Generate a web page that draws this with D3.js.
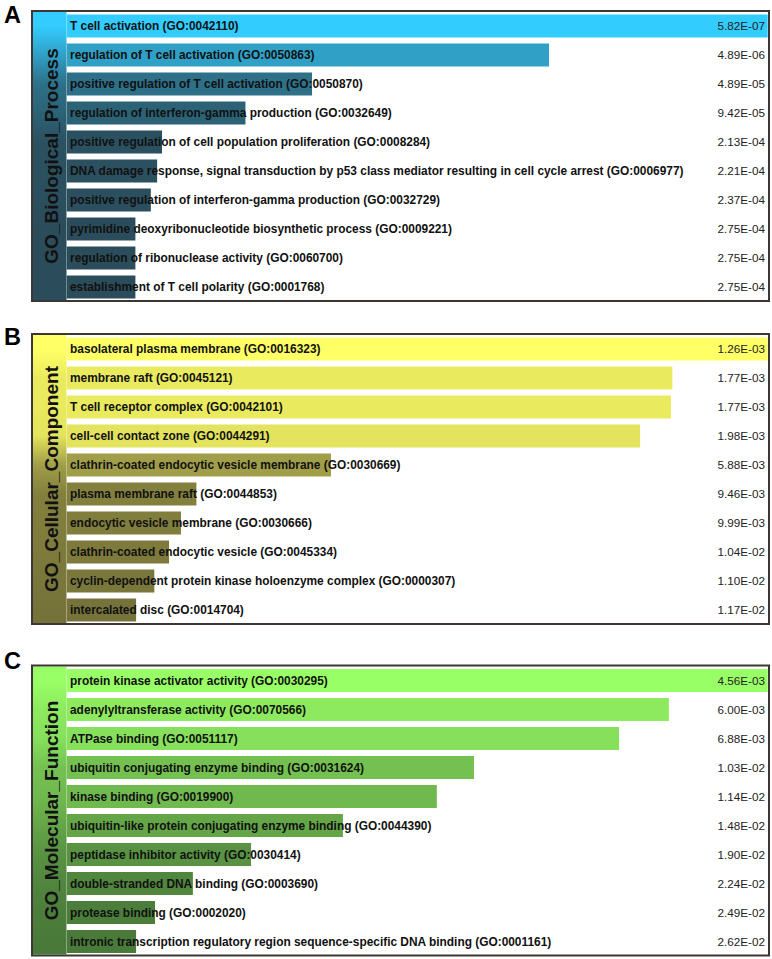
<!DOCTYPE html>
<html>
<head>
<meta charset="utf-8">
<script src="https://cdn.jsdelivr.net/npm/d3@7"></script>
<style>
  body { margin: 0; background: #fff; }
  svg { display: block; }
</style>
</head>
<body>
<svg id="chart" width="772" height="959"></svg>
<script>
// terms, p-values and relative bar lengths (score / top score) per GO library
const bpTerms = [
  'T cell activation (GO:0042110)',
  'regulation of T cell activation (GO:0050863)',
  'positive regulation of T cell activation (GO:0050870)',
  'regulation of interferon-gamma production (GO:0032649)',
  'positive regulation of cell population proliferation (GO:0008284)',
  'DNA damage response, signal transduction by p53 class mediator resulting in cell cycle arrest (GO:0006977)',
  'positive regulation of interferon-gamma production (GO:0032729)',
  'pyrimidine deoxyribonucleotide biosynthetic process (GO:0009221)',
  'regulation of ribonuclease activity (GO:0060700)',
  'establishment of T cell polarity (GO:0001768)'
]
const bpPvals = ['5.82E-07', '4.89E-06', '4.89E-05', '9.42E-05', '2.13E-04', '2.21E-04', '2.37E-04', '2.75E-04', '2.75E-04', '2.75E-04']
const bpScore = [1.0, 0.688, 0.350, 0.255, 0.136, 0.129, 0.120, 0.098, 0.098, 0.098]

const ccTerms = [
  'basolateral plasma membrane (GO:0016323)',
  'membrane raft (GO:0045121)',
  'T cell receptor complex (GO:0042101)',
  'cell-cell contact zone (GO:0044291)',
  'clathrin-coated endocytic vesicle membrane (GO:0030669)',
  'plasma membrane raft (GO:0044853)',
  'endocytic vesicle membrane (GO:0030666)',
  'clathrin-coated endocytic vesicle (GO:0045334)',
  'cyclin-dependent protein kinase holoenzyme complex (GO:0000307)',
  'intercalated disc (GO:0014704)'
]
const ccPvals = ['1.26E-03', '1.77E-03', '1.77E-03', '1.98E-03', '5.88E-03', '9.46E-03', '9.99E-03', '1.04E-02', '1.10E-02', '1.17E-02']
const ccScore = [1.0, 0.864, 0.862, 0.818, 0.377, 0.185, 0.163, 0.146, 0.125, 0.099]

const mfTerms = [
  'protein kinase activator activity (GO:0030295)',
  'adenylyltransferase activity (GO:0070566)',
  'ATPase binding (GO:0051117)',
  'ubiquitin conjugating enzyme binding (GO:0031624)',
  'kinase binding (GO:0019900)',
  'ubiquitin-like protein conjugating enzyme binding (GO:0044390)',
  'peptidase inhibitor activity (GO:0030414)',
  'double-stranded DNA binding (GO:0003690)',
  'protease binding (GO:0002020)',
  'intronic transcription regulatory region sequence-specific DNA binding (GO:0001161)'
]
const mfPvals = ['4.56E-03', '6.00E-03', '6.88E-03', '1.03E-02', '1.14E-02', '1.48E-02', '1.90E-02', '2.24E-02', '2.49E-02', '2.62E-02']
const mfScore = [1.0, 0.859, 0.788, 0.581, 0.528, 0.394, 0.263, 0.180, 0.126, 0.099]

const panels = [
  { key: 'A', title: 'GO_Biological_Process', terms: bpTerms, pvals: bpPvals, score: bpScore, top: 10, letterY: 13, bright: '#33ccff', dark: '#2b4c5a' },
  { key: 'B', title: 'GO_Cellular_Component', terms: ccTerms, pvals: ccPvals, score: ccScore, top: 333, letterY: 12, bright: '#ffff66', dark: '#76733a' },
  { key: 'C', title: 'GO_Molecular_Function', terms: mfTerms, pvals: mfPvals, score: mfScore, top: 664.5, letterY: 4, bright: '#99ff66', dark: '#4a7a3a' }
]

const font = "'Liberation Sans', Arial, sans-serif"
const svg = d3.select('#chart')
const frameX = 31
const frameW = 739
const frameH = 292
const barX0 = 35.7 // bars start right of the title column

const x = d3.scaleLinear().domain([0, 1]).range([0, 701])

panels.forEach(p => {
  const g = svg.append('g').attr('transform', `translate(${frameX},${p.top})`)
  const idx = d3.range(p.terms.length)
  const y = d3.scaleBand().domain(idx).range([4.5, 288.5]).paddingInner(0.207)
  const color = d3.scaleLinear().domain([0.1, 1]).range([p.dark, p.bright]).clamp(true)

  // letter
  svg.append('text')
    .attr('x', 4)
    .attr('y', p.top + p.letterY)
    .attr('font-family', font)
    .attr('font-weight', 'bold')
    .attr('font-size', 23.5)
    .attr('fill', '#000')
    .text(p.key)

  // column gradient follows the row colours
  const gradId = `grad-${p.key}`
  const grad = svg.append('defs').append('linearGradient')
    .attr('id', gradId)
    .attr('gradientUnits', 'userSpaceOnUse')
    .attr('x1', 0).attr('x2', 0).attr('y1', 2).attr('y2', frameH - 2)
  grad.selectAll('stop')
    .data(idx)
    .join('stop')
    .attr('offset', i => (y(i) + y.bandwidth() / 2 - 2) / (frameH - 4))
    .attr('stop-color', i => color(p.score[i]))

  g.append('rect')
    .attr('x', 0).attr('y', 0)
    .attr('width', frameW).attr('height', frameH)
    .attr('fill', '#fff')

  g.append('rect')
    .attr('x', 2).attr('y', 2)
    .attr('width', barX0 - 2.2).attr('height', frameH - 4)
    .attr('fill', `url(#${gradId})`)

  g.selectAll('rect.bar')
    .data(idx)
    .join('rect')
    .attr('class', 'bar')
    .attr('x', barX0)
    .attr('y', i => y(i))
    .attr('width', i => x(p.score[i]))
    .attr('height', y.bandwidth())
    .attr('fill', i => color(p.score[i]))

  g.selectAll('text.term')
    .data(idx)
    .join('text')
    .attr('class', 'term')
    .attr('x', barX0 + 3.3)
    .attr('y', i => y(i) + y.bandwidth() / 2 + 4.2)
    .attr('font-family', font)
    .attr('font-weight', 'bold')
    .attr('font-size', 11.9)
    .attr('fill', '#111')
    .text(i => p.terms[i])

  g.selectAll('text.pval')
    .data(idx)
    .join('text')
    .attr('class', 'pval')
    .attr('x', 734)
    .attr('y', i => y(i) + y.bandwidth() / 2 + 4.2)
    .attr('text-anchor', 'end')
    .attr('font-family', font)
    .attr('font-size', 11.7)
    .attr('fill', '#222')
    .text(i => p.pvals[i])

  g.append('text')
    .attr('transform', `translate(27,${frameH / 2}) rotate(-90)`)
    .attr('text-anchor', 'middle')
    .attr('font-family', font)
    .attr('font-weight', 'bold')
    .attr('font-size', 19)
    .attr('fill', '#111')
    .text(p.title)

  g.append('rect')
    .attr('x', 1).attr('y', 1)
    .attr('width', frameW - 2).attr('height', frameH - 2)
    .attr('fill', 'none')
    .attr('stroke', '#3d3633')
    .attr('stroke-width', 2)
})
</script>
</body>
</html>
